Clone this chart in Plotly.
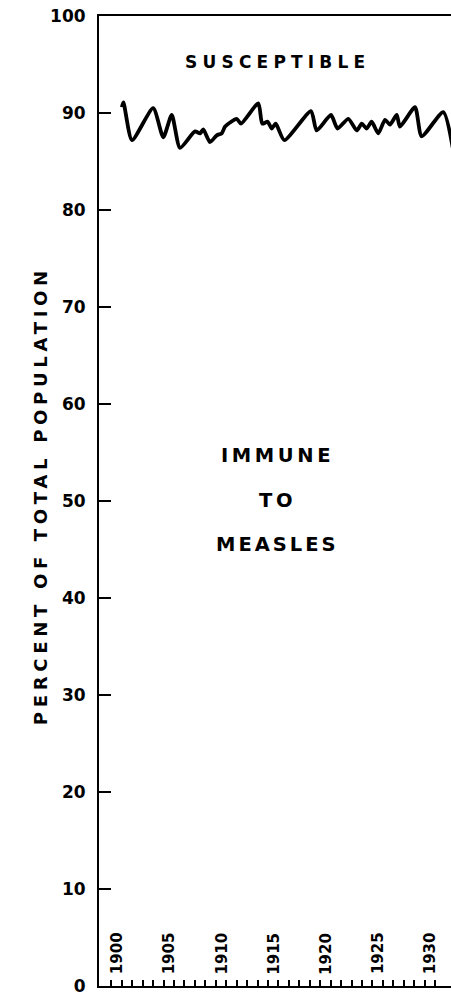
import plotly.graph_objects as go

# Susceptible fraction of total population (percent)
years = [1901.0, 1901.15, 1901.97, 1904.0, 1904.97, 1905.78, 1906.57, 1908.0,
         1908.49, 1908.8, 1909.44, 1910.09, 1910.57, 1910.89, 1912.0, 1912.41,
         1914.07, 1914.45, 1914.97, 1915.35, 1915.74, 1916.56, 1919.12, 1919.66,
         1921.03, 1921.66, 1922.69, 1923.5, 1923.98, 1924.45, 1924.93, 1925.56,
         1926.21, 1926.68, 1927.33, 1927.64, 1929.08, 1929.72, 1931.79, 1932.7]
susceptible = [90.6, 91.1, 87.2, 90.5, 87.5, 89.8, 86.4, 88.1,
               87.9, 88.3, 87.0, 87.7, 87.9, 88.6, 89.4, 88.9,
               91.0, 88.9, 89.1, 88.4, 88.9, 87.2, 90.2, 88.2,
               89.8, 88.4, 89.4, 88.2, 88.9, 88.4, 89.1, 87.9,
               89.3, 88.8, 89.8, 88.6, 90.6, 87.6, 90.1, 86.4]

y_tick_values = [0, 10, 20, 30, 40, 50, 60, 70, 80, 90, 100]
y_tick_labels = ["0", "10", "20", "30", "40", "50", "60", "70", "80", "90", "100"]
x_tick_years = list(range(1900, 1932))
x_label_years = [1900, 1905, 1910, 1915, 1920, 1925, 1930]
y_title = "PERCENT OF TOTAL POPULATION"

FONT = "DejaVu Sans"


def spaced(text, px):
    return f'<span style="letter-spacing:{px}px">{text}</span>'


fig = go.Figure()
fig.add_trace(go.Scatter(
    x=years, y=susceptible, mode="lines",
    line=dict(color="black", width=3.8, shape="spline", smoothing=0.6),
    hoverinfo="skip", showlegend=False,
))

annotations = []
for yr in x_label_years:
    annotations.append(dict(
        x=yr + 0.5, y=3.35, xref="x", yref="y", text=str(yr), textangle=-90,
        showarrow=False, xanchor="center", yanchor="middle",
        font=dict(family=FONT, size=15, color="black", weight="bold"),
    ))

region_labels = [
    ("SUSCEPTIBLE", 0.9526, 17, 5.2),
    ("IMMUNE", 0.5469, 19.5, 3.6),
    ("TO", 0.501, 19.5, 3.6),
    ("MEASLES", 0.4552, 19.5, 3.0),
]
for txt, yp, size, ls in region_labels:
    annotations.append(dict(
        x=0.506, y=yp, xref="paper", yref="paper", text=spaced(txt, ls),
        showarrow=False, xanchor="center", yanchor="middle",
        font=dict(family=FONT, size=size, color="black", weight="bold"),
    ))

# y-axis title
annotations.append(dict(
    x=-0.1676, y=0.505, xref="paper", yref="paper", text=spaced(y_title, 4.7),
    textangle=-90, showarrow=False, xanchor="center", yanchor="middle",
    font=dict(family=FONT, size=18, color="black", weight="bold"),
))

fig.update_layout(
    width=451, height=992,
    margin=dict(l=99, r=0, t=16, b=6, pad=0, autoexpand=False),
    paper_bgcolor="white", plot_bgcolor="white",
    showlegend=False,
    annotations=annotations,
    xaxis=dict(
        range=[1898.81, 1932.53], showgrid=False, zeroline=False,
        automargin=False,
        showline=True, linecolor="black", linewidth=2, mirror=True,
        ticks="inside", tickvals=x_tick_years, ticklen=6, tickwidth=1.5,
        tickcolor="black", showticklabels=False,
    ),
    yaxis=dict(
        range=[0, 100], showgrid=False, zeroline=False,
        automargin=False,
        showline=True, linecolor="black", linewidth=2,
        ticks="inside", tickvals=y_tick_values, ticktext=y_tick_labels,
        ticklen=12, tickwidth=2, tickcolor="black",
        ticklabelstandoff=8, ticklabeloverflow="allow",
        tickfont=dict(family=FONT, size=17, color="black", weight="bold"),
    ),
)

fig.write_html(
    "out.html",
    config={"displayModeBar": False},
    post_script="document.body.style.margin='0';document.body.style.overflow='hidden';",
)
